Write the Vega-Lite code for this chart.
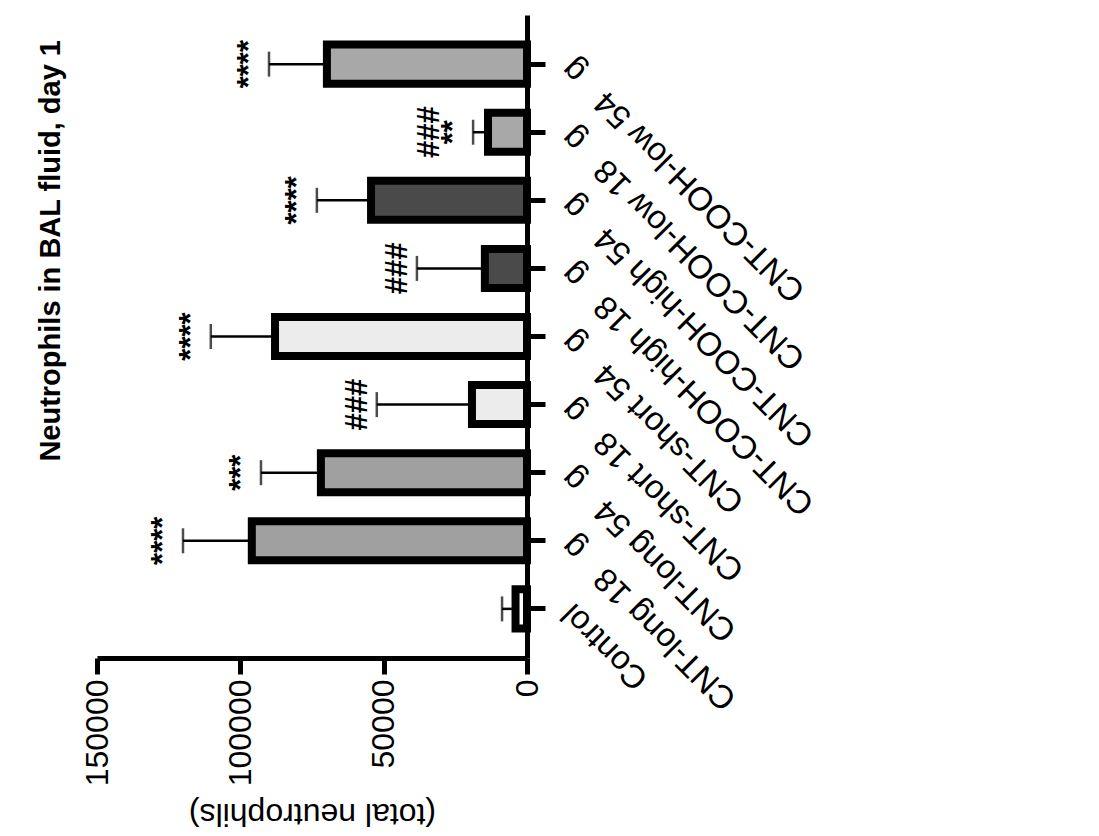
{
  "$schema": "https://vega.github.io/schema/vega-lite/v6.json",
  "autosize": "none",
  "width": 430,
  "height": 643,
  "padding": {"left": 97, "top": 15, "right": 572, "bottom": 178},
  "background": "white",
  "config": {"view": {"stroke": null}, "font": "Liberation Sans"},
  "title": {
    "text": "Neutrophils in BAL fluid, day 1",
    "orient": "left",
    "anchor": "end",
    "angle": -90,
    "fontSize": 29,
    "fontWeight": "bold",
    "font": "Liberation Sans",
    "color": "black",
    "offset": 15,
    "dx": -25
  },
  "data": {
    "values": [
      {"group": "Control", "mean": 4000, "upper": 8700, "material": "Control", "sig": "", "sig2": ""},
      {"group": "CNT-long 18\u00a0\u00a0\u00a0g", "mean": 96000, "upper": 120000, "material": "long", "sig": "****", "sig2": ""},
      {"group": "CNT-long 54\u00a0\u00a0\u00a0g", "mean": 71900, "upper": 92800, "material": "long", "sig": "***", "sig2": ""},
      {"group": "CNT-short 18\u00a0\u00a0\u00a0g", "mean": 19200, "upper": 52400, "material": "short", "sig": "###", "sig2": ""},
      {"group": "CNT-short 54\u00a0\u00a0\u00a0g", "mean": 87900, "upper": 110300, "material": "short", "sig": "****", "sig2": ""},
      {"group": "CNT-COOH-high 18\u00a0\u00a0\u00a0g", "mean": 14700, "upper": 38400, "material": "COOH-high", "sig": "###", "sig2": ""},
      {"group": "CNT-COOH-high 54\u00a0\u00a0\u00a0g", "mean": 54400, "upper": 73300, "material": "COOH-high", "sig": "****", "sig2": ""},
      {"group": "CNT-COOH-low 18\u00a0\u00a0\u00a0g", "mean": 13600, "upper": 18800, "material": "COOH-low", "sig": "**", "sig2": "###"},
      {"group": "CNT-COOH-low 54\u00a0\u00a0\u00a0g", "mean": 69800, "upper": 90000, "material": "COOH-low", "sig": "****", "sig2": ""}
    ]
  },
  "encoding": {
    "y": {
      "field": "group",
      "type": "nominal",
      "sort": ["CNT-COOH-low 54\u00a0\u00a0\u00a0g", "CNT-COOH-low 18\u00a0\u00a0\u00a0g", "CNT-COOH-high 54\u00a0\u00a0\u00a0g", "CNT-COOH-high 18\u00a0\u00a0\u00a0g", "CNT-short 54\u00a0\u00a0\u00a0g", "CNT-short 18\u00a0\u00a0\u00a0g", "CNT-long 54\u00a0\u00a0\u00a0g", "CNT-long 18\u00a0\u00a0\u00a0g", "Control"],
      "scale": {"paddingInner": 0.427, "paddingOuter": 0.435},
      "axis": {
        "orient": "right",
        "title": null,
        "domainColor": "black",
        "domainWidth": 5,
        "tickColor": "black",
        "tickWidth": 5,
        "tickSize": 18,
        "labelAngle": 225,
        "labelAlign": "right",
        "labelBaseline": "middle",
        "labelPadding": 22,
        "labelFontSize": 33,
        "labelColor": "black",
        "labelFont": "Liberation Sans",
        "labelLimit": 0
      }
    }
  },
  "layer": [
    {
      "mark": {"type": "bar", "stroke": "black", "strokeWidth": 8},
      "encoding": {
        "x": {
          "field": "mean",
          "type": "quantitative",
          "scale": {"domain": [0, 150000], "reverse": true, "nice": false},
          "axis": {
            "orient": "bottom",
            "values": [0, 50000, 100000, 150000],
            "format": "d",
            "grid": false,
            "title": "(total neutrophils)",
            "titleAngle": 180,
            "titleBaseline": "bottom",
            "titleFontSize": 32,
            "titleFontWeight": "normal",
            "titleColor": "black",
            "titleFont": "Liberation Sans",
            "titlePadding": 11,
            "domainColor": "black",
            "domainWidth": 5,
            "tickColor": "black",
            "tickWidth": 5,
            "tickSize": 16,
            "labelAngle": 270,
            "labelAlign": "right",
            "labelBaseline": "middle",
            "labelPadding": 5,
            "labelFontSize": 32,
            "labelColor": "black",
            "labelFont": "Liberation Sans",
            "labelFlush": false,
            "labelOverlap": false
          }
        },
        "x2": {"datum": 0},
        "color": {
          "field": "material",
          "type": "nominal",
          "scale": {
            "domain": ["Control", "long", "short", "COOH-high", "COOH-low"],
            "range": ["#ffffff", "#a0a0a0", "#ececec", "#4a4a4a", "#a8a8a8"]
          },
          "legend": null
        }
      }
    },
    {
      "mark": {"type": "rule", "color": "black", "strokeWidth": 2.5},
      "encoding": {
        "x": {"field": "mean", "type": "quantitative"},
        "x2": {"field": "upper"}
      }
    },
    {
      "mark": {"type": "tick", "color": "black", "thickness": 2.5, "size": 25},
      "encoding": {
        "x": {"field": "upper", "type": "quantitative"}
      }
    },
    {
      "mark": {"type": "text", "angle": 270, "align": "center", "baseline": "middle", "fontSize": 31, "fontWeight": "bold", "color": "black", "dy": -19},
      "encoding": {
        "x": {"field": "upper", "type": "quantitative"},
        "text": {"field": "sig"}
      }
    },
    {
      "mark": {"type": "text", "angle": 270, "align": "center", "baseline": "middle", "fontSize": 31, "fontWeight": "bold", "color": "black", "dy": -43},
      "encoding": {
        "x": {"field": "upper", "type": "quantitative"},
        "text": {"field": "sig2"}
      }
    }
  ]
}
